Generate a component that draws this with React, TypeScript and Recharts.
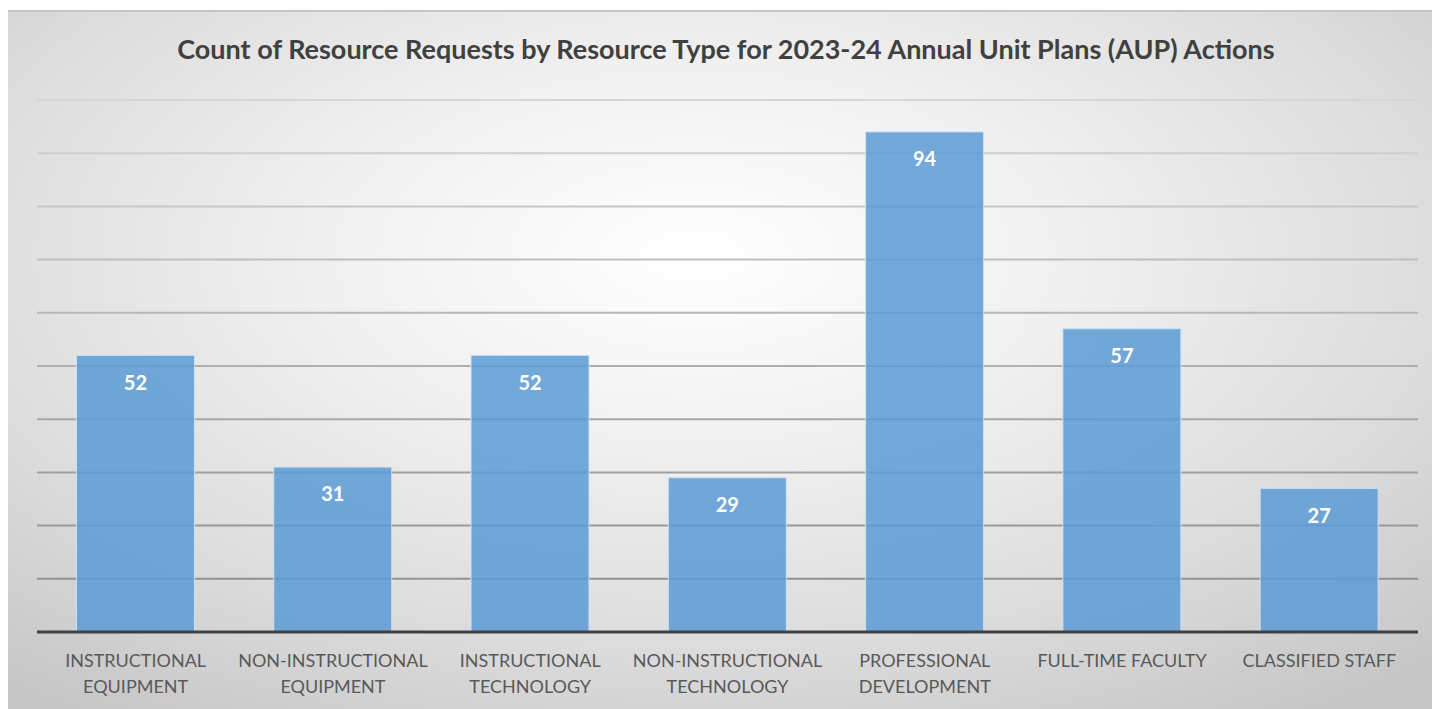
import {
  BarChart,
  Bar,
  XAxis,
  YAxis,
  CartesianGrid,
  LabelList,
} from 'recharts';

const categories = [
  'INSTRUCTIONAL\nEQUIPMENT',
  'NON-INSTRUCTIONAL\nEQUIPMENT',
  'INSTRUCTIONAL\nTECHNOLOGY',
  'NON-INSTRUCTIONAL\nTECHNOLOGY',
  'PROFESSIONAL\nDEVELOPMENT',
  'FULL-TIME FACULTY',
  'CLASSIFIED STAFF',
];
const counts = [52, 31, 52, 29, 94, 57, 27];
const yTicks = [0, 10, 20, 30, 40, 50, 60, 70, 80, 90, 100];

const title =
  'Count of Resource Requests by Resource Type for 2023-24 Annual Unit Plans (AUP) Actions';

const FONT = 'Lato, "Open Sans", sans-serif';

function CategoryTick(props: any) {
  const { x, y, payload } = props;
  const lines = String(payload.value).split('\n');
  return (
    <text
      x={x}
      y={y}
      textAnchor="middle"
      fill="#595959"
      fontSize={18}
      fontFamily={FONT}
    >
      {lines.map((l, i) => (
        <tspan key={i} x={x} dy={i === 0 ? 27 : 26}>
          {l}
        </tspan>
      ))}
    </text>
  );
}

export default function App() {
  const data = categories.map((c, i) => ({ name: c, count: counts[i] }));

  return (
    <div
      style={{
        position: 'relative',
        width: 1434,
        height: 699,
        marginLeft: -2,
        marginTop: 2,
        borderTop: '2px solid #c4c4c4',
        boxSizing: 'border-box',
        background:
          'radial-gradient(ellipse 75% 80% at 48% 35%, #ffffff 0%, #f0f0f0 35%, #dcdcdc 70%, #c6c6c6 100%)',
        fontFamily: FONT,
      }}
    >
      <div
        style={{
          position: 'absolute',
          top: 20,
          left: 0,
          width: 1440,
          textAlign: 'center',
          fontSize: 27,
          fontWeight: 700,
          color: '#404040',
          whiteSpace: 'nowrap',
        }}
      >
        {title}
      </div>
      <BarChart
        width={1434}
        height={697}
        data={data}
        margin={{ top: 88, right: 22, left: 31, bottom: 17 }}
        barCategoryGap="20%"
        style={{ position: 'absolute', top: 0, left: 0 }}
      >
        <defs>
          <linearGradient id="gridGrad" gradientUnits="userSpaceOnUse" x1="0" y1="88" x2="0" y2="580">
            <stop offset="0%" stopColor="#d6d6d6" />
            <stop offset="100%" stopColor="#8f8f8f" />
          </linearGradient>
        </defs>
        <CartesianGrid
          vertical={false}
          stroke="url(#gridGrad)"
          strokeWidth={2}
        />
        <YAxis
          domain={[0, 100]}
          ticks={yTicks}
          hide
        />
        <XAxis
          dataKey="name"
          interval={0}
          axisLine={{ stroke: '#404040', strokeWidth: 3 }}
          tickLine={false}
          tick={<CategoryTick />}
          height={60}
        />
        <Bar
          dataKey="count"
          fill="#5b9bd5"
          fillOpacity={0.85}
          stroke="#cfe0f2"
          strokeWidth={1}
          isAnimationActive={false}
        >
          <LabelList
            dataKey="count"
            position="insideTop"
            offset={20}
            fill="#ffffff"
            fontSize={20}
            fontWeight={700}
            fontFamily={FONT}
          />
        </Bar>
      </BarChart>
    </div>
  );
}
